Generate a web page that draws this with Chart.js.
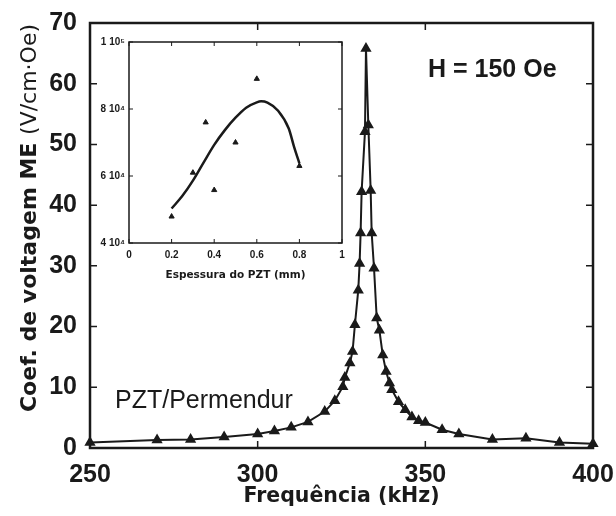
<!DOCTYPE html>
<html>
<head>
<meta charset="utf-8">
<script src="https://cdn.jsdelivr.net/npm/chart.js@4.4.1/dist/chart.umd.min.js"></script>
<style>
  body { margin: 0; background: #fff; }
  #wrap { position: relative; width: 616px; height: 516px; }
  #main { position: absolute; left: 0; top: 0; }
  #inset { position: absolute; left: 95px; top: 30px; }
</style>
</head>
<body>
<div id="wrap">
  <canvas id="main" width="616" height="516"></canvas>
  <canvas id="inset" width="255" height="255"></canvas>
</div>
<script>
// main curve: ME voltage coefficient vs frequency (kHz)
var freq = [250, 270, 280, 290, 300, 305, 310, 315, 320, 323,
  325.4, 326, 327.5, 328.3, 329, 330, 330.4, 330.7, 331, 332,
  332.3, 333, 333.7, 334, 334.7, 335.5, 336.3, 337.3, 338.3, 339.3,
  340, 342, 344, 346, 348, 350, 355, 360, 370, 380,
  390, 400];
var coefME = [0.9, 1.3, 1.4, 1.8, 2.3, 2.8, 3.4, 4.3, 6.0, 7.8,
  10.1, 11.6, 14.0, 15.9, 20.3, 26.0, 30.4, 35.4, 42.2, 52.1,
  65.8, 53.2, 42.4, 35.4, 29.6, 21.4, 19.4, 15.3, 12.6, 10.7,
  9.6, 7.6, 6.3, 5.1, 4.5, 4.2, 3.0, 2.3, 1.4, 1.6,
  0.9, 0.7];

// inset: peak value vs PZT thickness (mm), with the fitted curve
var thick = [0.2, 0.3, 0.36, 0.4, 0.5, 0.6, 0.8];
var peakME = [47900, 61000, 76000, 55800, 70000, 89000, 63000];
var fitX = [0.2, 0.25, 0.3, 0.35, 0.4, 0.45, 0.5, 0.55, 0.6, 0.62, 0.65, 0.7, 0.75, 0.775, 0.8];
var fitY = [50300, 54000, 58600, 64000, 69300, 73700, 77400, 80400, 82000, 82300, 81900, 79500, 74200, 68700, 63800];

var xTicks = [250, 300, 350, 400];
var yTicks = [0, 10, 20, 30, 40, 50, 60, 70];

var ink = "#1a1a1a";

// frame round the plot with inward tick marks
var boxTicks = {
  id: "boxTicks",
  beforeDatasetsDraw: function (chart, args, opts) {
    var a = chart.chartArea, c = chart.ctx;
    var xs = chart.scales.x, ys = chart.scales.y;
    c.save();
    c.strokeStyle = ink;
    c.lineWidth = opts.tickWidth;
    c.beginPath();
    xs.ticks.forEach(function (t) {
      var px = xs.getPixelForValue(t.value);
      c.moveTo(px, a.bottom); c.lineTo(px, a.bottom - opts.len);
      c.moveTo(px, a.top); c.lineTo(px, a.top + opts.len);
    });
    ys.ticks.forEach(function (t) {
      var py = ys.getPixelForValue(t.value);
      c.moveTo(a.left, py); c.lineTo(a.left + opts.len, py);
      c.moveTo(a.right, py); c.lineTo(a.right - opts.len, py);
    });
    c.stroke();
    c.lineWidth = opts.border;
    c.strokeRect(a.left, a.top, a.right - a.left, a.bottom - a.top);
    c.restore();
  }
};

function drawParts(c, parts, x, y) {
  var total = 0;
  parts.forEach(function (p) { c.font = p[1]; total += c.measureText(p[0]).width; });
  var cx = x - total / 2;
  parts.forEach(function (p) {
    c.font = p[1];
    c.fillText(p[0], cx, y);
    cx += c.measureText(p[0]).width;
  });
}

var mainText = {
  id: "mainText",
  afterDraw: function (chart) {
    var c = chart.ctx, a = chart.chartArea;
    c.save();
    c.fillStyle = ink;
    c.textBaseline = "middle";
    c.textAlign = "left";
    drawParts(c, [["Frequência (kHz)", "bold 20.5px 'DejaVu Sans'"]], (a.left + a.right) / 2, 497);
    c.save();
    c.translate(30, 218);
    c.rotate(-Math.PI / 2);
    drawParts(c, [["Coef. de voltagem ME ", "bold 22px 'DejaVu Sans'"], ["(V/cm·Oe)", "22px 'DejaVu Sans'"]], 0, 0);
    c.restore();
    c.textBaseline = "alphabetic";
    c.font = "bold 25px 'Liberation Sans'";
    c.fillText("H = 150 Oe", 428, 77);
    c.font = "25px 'Liberation Sans'";
    c.fillText("PZT/Permendur", 115, 408);
    c.restore();
  }
};

var insetText = {
  id: "insetText",
  afterDraw: function (chart) {
    var c = chart.ctx, a = chart.chartArea;
    c.save();
    c.fillStyle = ink;
    c.textBaseline = "middle";
    c.textAlign = "left";
    drawParts(c, [["Espessura do PZT (mm)", "bold 10.5px 'DejaVu Sans'"]], (a.left + a.right) / 2, 245);
    c.restore();
  }
};

var tickFont = { family: "'Liberation Sans'", size: 25, weight: "bold" };

new Chart(document.getElementById("main"), {
  type: "line",
  data: {
    datasets: [{
      data: freq.map(function (f, i) { return { x: f, y: coefME[i] }; }),
      borderColor: ink,
      borderWidth: 2,
      pointStyle: "triangle",
      pointRadius: 4.5,
      pointBackgroundColor: ink,
      pointBorderColor: ink,
      tension: 0,
      clip: false
    }]
  },
  options: {
    responsive: false,
    animation: false,
    layout: { padding: { top: 23, right: 23, left: 0, bottom: 0 } },
    plugins: {
      legend: { display: false },
      tooltip: { enabled: false },
      boxTicks: { len: 7, tickWidth: 1.5, border: 2.5 }
    },
    scales: {
      x: {
        type: "linear", min: 250, max: 400,
        afterBuildTicks: function (s) { s.ticks = xTicks.map(function (v) { return { value: v }; }); },
        ticks: { font: tickFont, color: ink, padding: 12, maxRotation: 0 },
        grid: { display: false, drawTicks: false },
        border: { display: false },
        afterFit: function (s) { s.height = 68; s.paddingLeft = 0; s.paddingRight = 0; }
      },
      y: {
        min: 0, max: 70,
        afterBuildTicks: function (s) { s.ticks = yTicks.map(function (v) { return { value: v }; }); },
        ticks: { font: tickFont, color: ink, padding: 13 },
        grid: { display: false, drawTicks: false },
        border: { display: false },
        afterFit: function (s) { s.width = 90; s.paddingTop = 0; s.paddingBottom = 0; }
      }
    }
  },
  plugins: [boxTicks, mainText]
});

var smallFont = { family: "'Liberation Sans'", size: 10, weight: "bold" };

new Chart(document.getElementById("inset"), {
  type: "line",
  data: {
    datasets: [{
      data: thick.map(function (t, i) { return { x: t, y: peakME[i] }; }),
      showLine: false,
      pointStyle: "triangle",
      pointRadius: 3,
      pointBackgroundColor: ink,
      pointBorderColor: ink,
      clip: false
    }, {
      data: fitX.map(function (t, i) { return { x: t, y: fitY[i] }; }),
      borderColor: ink,
      borderWidth: 2.5,
      pointRadius: 0,
      cubicInterpolationMode: "monotone"
    }]
  },
  options: {
    responsive: false,
    animation: false,
    layout: { padding: { top: 12, right: 8, left: 0, bottom: 0 } },
    plugins: {
      legend: { display: false },
      tooltip: { enabled: false },
      boxTicks: { len: 4, tickWidth: 1, border: 1.5 }
    },
    scales: {
      x: {
        type: "linear", min: 0, max: 1,
        ticks: {
          stepSize: 0.2, font: smallFont, color: ink, padding: 6, maxRotation: 0,
          callback: function (v) { return String(Math.round(v * 10) / 10); }
        },
        grid: { display: false, drawTicks: false },
        border: { display: false },
        afterFit: function (s) { s.height = 42; s.paddingLeft = 0; s.paddingRight = 0; }
      },
      y: {
        min: 40000, max: 100000,
        ticks: {
          stepSize: 20000, font: smallFont, color: ink, padding: 4,
          callback: function (v) { return v >= 100000 ? "1 10\u2075" : (v / 10000) + " 10\u2074"; }
        },
        grid: { display: false, drawTicks: false },
        border: { display: false },
        afterFit: function (s) { s.width = 34; s.paddingTop = 0; s.paddingBottom = 0; }
      }
    }
  },
  plugins: [boxTicks, insetText]
});
</script>
</body>
</html>
